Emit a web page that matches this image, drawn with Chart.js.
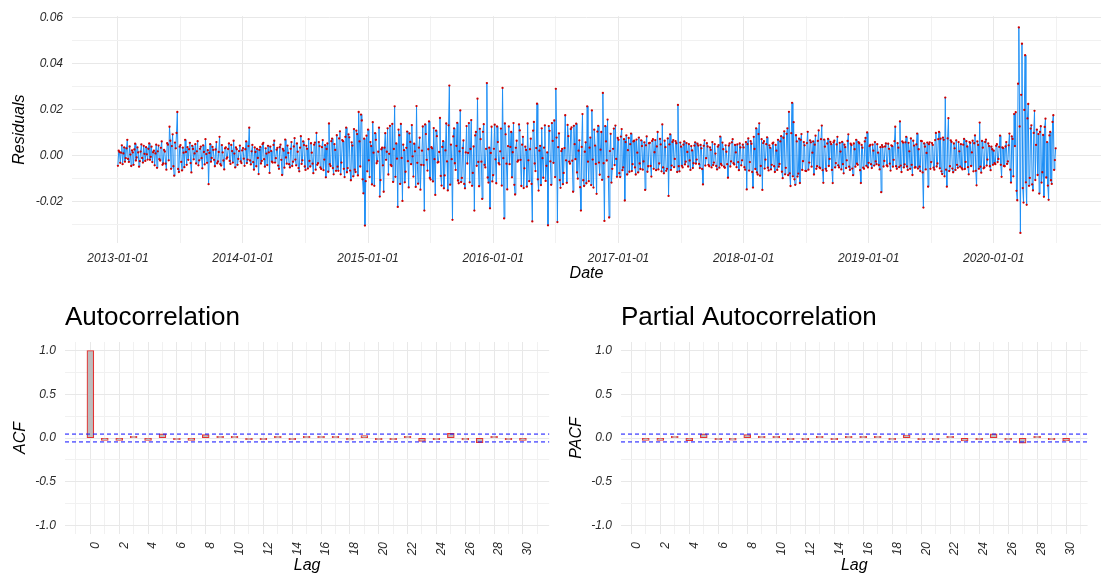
<!DOCTYPE html>
<html>
<head>
<meta charset="utf-8">
<script src="https://cdn.jsdelivr.net/npm/chart.js@4.4.1/dist/chart.umd.min.js"></script>
<style>
html,body{margin:0;padding:0;background:#fff;overflow:hidden;width:1103px;height:579px;}
.box{position:absolute;}
canvas{display:block;}
</style>
</head>
<body>
<div class="box" style="left:0;top:0;"><canvas id="resid" width="1103" height="285"></canvas></div>
<div class="box" style="left:0;top:290px;"><canvas id="acf" width="560" height="289"></canvas></div>
<div class="box" style="left:560px;top:290px;"><canvas id="pacf" width="543" height="289"></canvas></div>
<script>
// ---------------- DATA ----------------
// Residual series (about 160 values per calendar year, evenly spaced)
const res2013 = [
 -0.0045, 0.0021, 0.0015,-0.0032, 0.0012, 0.0044,-0.0038, 0.0009, 0.0035,-0.0027,-0.0012, 0.0031, 0.0068,-0.0015,-0.0028, 0.0039, 0.0004,-0.0046, 0.0022, 0.0013,
 -0.0041, 0.0026, 0.0051,-0.0022,-0.0009, 0.0035, 0.0013,-0.0049,-0.0025, 0.0017, 0.0048,-0.0011,-0.0031, 0.0042, 0.0007,-0.0024, 0.0036, 0.0005,-0.0018, 0.0029,
  0.0052,-0.0019,-0.0006, 0.0038,-0.0029, 0.0014, 0.0021,-0.0043, 0.0009, 0.0047,-0.0054, 0.0018, 0.0043,-0.0016,-0.0022, 0.0033, 0.0061,-0.0041,-0.0035, 0.0024,
  0.0017,-0.0036,-0.0062, 0.0053, 0.0047,-0.0021, 0.0125, 0.0064,-0.0058, 0.0041, 0.0092,-0.0047,-0.0088, 0.0056, 0.0031, 0.0098, 0.0189,-0.0059,-0.0072, 0.0038,
  0.0045,-0.0028,-0.0065, 0.0034, 0.0012,-0.0051, 0.0068, 0.0015,-0.0041, 0.0036,-0.0019, 0.0027, 0.0055,-0.0033,-0.0074, 0.0042, 0.0028,-0.0017, 0.0009, 0.0049,
 -0.0035, 0.0018, 0.0062,-0.0043,-0.0021, 0.0029, 0.0038,-0.0012,-0.0056, 0.0044, 0.0015,-0.0039, 0.0071, 0.0006,-0.0032, 0.0023,-0.0125, 0.0011, 0.0049,-0.0027,
 -0.0011, 0.0037, 0.0024,-0.0019,-0.0047, 0.0026, 0.0058,-0.0034,-0.0026, 0.0015, 0.0081,-0.0038,-0.0044, 0.0045, 0.0013,-0.0022,-0.0061, 0.0031, 0.0035,-0.0014,
 -0.0008, 0.0028, 0.0052,-0.0024,-0.0037, 0.0046, 0.0019,-0.0031, 0.0064, 0.0008,-0.0052, 0.0035, 0.0027,-0.0041,-0.0015, 0.0019, 0.0043,-0.0026,-0.0033, 0.0022];
const res2014 = [
  0.0032,-0.0014,-0.0045, 0.0027, 0.0061,-0.0033,-0.0018, 0.0041, 0.0121,-0.0022,-0.0039, 0.0018, 0.0046,-0.0029,-0.0062, 0.0035, 0.0015,-0.0047, 0.0028,-0.0011,
 -0.0081, 0.0024, 0.0037,-0.0035,-0.0024, 0.0049, 0.0055,-0.0016,-0.0049, 0.0031, 0.0008,-0.0042, 0.0042, 0.0013,-0.0076, 0.0038, 0.0019,-0.0027,-0.0031, 0.0046,
  0.0064,-0.0031,-0.0012, 0.0025, 0.0033,-0.0044,-0.0058, 0.0036, 0.0047,-0.0019,-0.0085, 0.0028, 0.0021,-0.0053, 0.0069,-0.0009,-0.0036, 0.0043, 0.0011,-0.0038,
 -0.0052, 0.0029, 0.0058,-0.0046,-0.0027, 0.0039, 0.0075,-0.0018,-0.0043, 0.0052, 0.0016,-0.0055,-0.0069, 0.0034, 0.0084,-0.0037,-0.0021, 0.0061, 0.0045,-0.0048,
 -0.0063, 0.0042, 0.0029,-0.0057, 0.0071,-0.0024,-0.0048, 0.0053, 0.0012,-0.0036,-0.0077, 0.0047, 0.0056,-0.0062, 0.0098,-0.0041,-0.0034, 0.0058, 0.0041,-0.0052,
 -0.0059, 0.0036, 0.0067,-0.0064,-0.0018, 0.0045,-0.0095, 0.0028, 0.0052,-0.0071, 0.0139,-0.0038,-0.0046, 0.0062, 0.0073,-0.0055,-0.0082, 0.0049, 0.0024,-0.0067,
  0.0088,-0.0049,-0.0067, 0.0074, 0.0105,-0.0082,-0.0031, 0.0067, 0.0062,-0.0058,-0.0094, 0.0081, 0.0121,-0.0073,-0.0055, 0.0092, 0.0079,-0.0066,-0.0108, 0.0057,
  0.0043,-0.0091, 0.0115,-0.0062,-0.0072, 0.0108, 0.0093,-0.0087, 0.0189, 0.0061,-0.0048, 0.0178, 0.0152,-0.0104,-0.0165, 0.0073,-0.0305,-0.0112, 0.0086,-0.0069];
const res2015 = [
  0.0112,-0.0021,-0.0094, 0.0058, 0.0041,-0.0126, 0.0145, 0.0012,-0.0132, 0.0097, 0.0068,-0.0034,-0.0025, 0.0016, 0.0121,-0.0179,-0.0107, 0.0027, 0.0034,-0.0043,
 -0.0158, 0.0034, 0.0097,-0.0019, 0.0016, 0.0118,-0.0083, 0.0007, 0.0129,-0.0041,-0.0046, 0.0137,-0.0115, 0.0028, 0.0214,-0.0093, 0.0052,-0.0014,-0.0224, 0.0112,
  0.0088,-0.0124, 0.0137,-0.0011,-0.0198, 0.0047, 0.0023,-0.0117,-0.0071, 0.0033, 0.0104,-0.0025,-0.0139, 0.0096, 0.0059,-0.0038, 0.0132,-0.0004,-0.0092, 0.0051,
  0.0018,-0.0137, 0.0215,-0.0032,-0.0123, 0.0034, 0.0077,-0.0149,-0.0041, 0.0021, 0.0126,-0.0042,-0.0240, 0.0135, 0.0093,-0.0019,-0.0066, 0.0027, 0.0148,-0.0098,
 -0.0105, 0.0036, 0.0031,-0.0113, 0.0119,-0.0016,-0.0172, 0.0108, 0.0084,-0.0031,-0.0028, 0.0015, 0.0163,-0.0089,-0.0131, 0.0037, 0.0062,-0.0143,-0.0087, 0.0022,
  0.0139,-0.0026,-0.0152, 0.0131, 0.0304,-0.0127, 0.0047,-0.0016,-0.0280, 0.0083, 0.0118,-0.0034,-0.0063, 0.0042, 0.0142,-0.0109,-0.0121, 0.0018, 0.0196,-0.0116,
 -0.0098, 0.0032, 0.0065,-0.0124,-0.0143, 0.0013, 0.0128,-0.0035, 0.0011, 0.0141,-0.0117, 0.0028, 0.0154,-0.0132,-0.0076, 0.0039,-0.0240, 0.0087, 0.0102,-0.0045,
  0.0247,-0.0028,-0.0134, 0.0116, 0.0071,-0.0027,-0.0189, 0.0103, 0.0136,-0.0041,-0.0052, 0.0029, 0.0315,-0.0096,-0.0118, 0.0034,-0.0230, 0.0011, 0.0125,-0.0113];
const res2016 = [
 -0.0086, 0.0029, 0.0134,-0.0017,-0.0121, 0.0126, 0.0058,-0.0033,-0.0039, 0.0018, 0.0117,-0.0131, 0.0294,-0.0012,-0.0274, 0.0139, 0.0092,-0.0036,-0.0148, 0.0041,
  0.0126,-0.0038, 0.0037, 0.0102,-0.0095, 0.0014, 0.0141,-0.0128,-0.0170, 0.0033, 0.0064,-0.0027,-0.0022, 0.0135, 0.0109,-0.0019,-0.0133, 0.0047, 0.0081,-0.0142,
 -0.0056, 0.0038, 0.0024,-0.0136, 0.0139,-0.0021,-0.0112, 0.0027, 0.0073,-0.0124,-0.0287, 0.0108, 0.0146,-0.0035,-0.0068, 0.0032, 0.0225,-0.0104,-0.0153, 0.0021,
  0.0042,-0.0129, 0.0118,-0.0012,-0.0097, 0.0034, 0.0131,-0.0111,-0.0045, 0.0013,-0.0304, 0.0128, 0.0107,-0.0026,-0.0128, 0.0141, 0.0063,-0.0032, 0.0152,-0.0094,
  0.0290, 0.0078,-0.0290, 0.0036, 0.0096,-0.0107,-0.0141, 0.0019, 0.0028,-0.0125,-0.0076, 0.0032, 0.0175,-0.0021,-0.0119, 0.0133, 0.0084,-0.0027,-0.0036, 0.0115,
  0.0122,-0.0023,-0.0158, 0.0129, 0.0049,-0.0016, 0.0138,-0.0074,-0.0101, 0.0021, 0.0066,-0.0138,-0.0240, 0.0037, 0.0180,-0.0108,-0.0133, 0.0016, 0.0057,-0.0121,
  0.0214,-0.0027,-0.0112, 0.0034, 0.0078,-0.0129, 0.0196,-0.0018,-0.0140, 0.0112, 0.0043,-0.0037,-0.0167, 0.0104, 0.0129,-0.0031,-0.0084, 0.0025, 0.0102,-0.0106,
  0.0272,-0.0034,-0.0285, 0.0128, 0.0061,-0.0022, 0.0156,-0.0093,-0.0270, 0.0019, 0.0094,-0.0118,-0.0058, 0.0029, 0.0117,-0.0042, 0.0130,-0.0015,-0.0093, 0.0076];
const res2017 = [
  0.0068,-0.0077,-0.0094, 0.0082, 0.0115,-0.0064,-0.0052, 0.0071,-0.0196, 0.0058, 0.0087,-0.0083, 0.0023, 0.0076,-0.0071, 0.0049, 0.0095,-0.0068,-0.0038, 0.0061,
  0.0064,-0.0052,-0.0083, 0.0069, 0.0012,-0.0074, 0.0078,-0.0035,-0.0059, 0.0066, 0.0041,-0.0062,-0.0026, 0.0057,-0.0150, 0.0044, 0.0083,-0.0071,-0.0047, 0.0053,
  0.0055,-0.0046,-0.0092, 0.0063, 0.0071,-0.0058, 0.0014, 0.0067,-0.0064, 0.0039, 0.0102,-0.0061,-0.0035, 0.0072, 0.0048,-0.0069, 0.0135,-0.0052,-0.0078, 0.0064,
  0.0036,-0.0067,-0.0058, 0.0074,-0.0176, 0.0048, 0.0092,-0.0063,-0.0044, 0.0059, 0.0067,-0.0051,-0.0015, 0.0062, 0.0053,-0.0072, 0.0220,-0.0047,-0.0069, 0.0056,
  0.0038,-0.0045,-0.0052, 0.0047, 0.0061,-0.0039,-0.0027, 0.0054, 0.0015,-0.0048, 0.0049,-0.0022,-0.0063, 0.0041, 0.0022,-0.0055,-0.0034, 0.0043, 0.0057,-0.0036,
 -0.0018, 0.0051, 0.0043,-0.0037,-0.0055, 0.0046, 0.0031,-0.0059,-0.0126, 0.0042, 0.0066,-0.0044,-0.0012, 0.0053, 0.0039,-0.0041,-0.0047, 0.0035, 0.0024,-0.0052,
  0.0058,-0.0042,-0.0031, 0.0049, 0.0008,-0.0046,-0.0061, 0.0038, 0.0045,-0.0053, 0.0082,-0.0037,-0.0043, 0.0056, 0.0027,-0.0049,-0.0054, 0.0044, 0.0016,-0.0038,
 -0.0097, 0.0043, 0.0052,-0.0048,-0.0026, 0.0057, 0.0071,-0.0034,-0.0039, 0.0046, 0.0013,-0.0051, 0.0048,-0.0029,-0.0064, 0.0052, 0.0035,-0.0043,-0.0021, 0.0047];
const res2018 = [
  0.0035,-0.0051,-0.0062, 0.0058,-0.0148, 0.0049, 0.0074,-0.0066,-0.0029, 0.0062, 0.0051,-0.0072,-0.0140, 0.0081, 0.0028,-0.0059, 0.0118,-0.0074,-0.0083, 0.0093,
  0.0140,-0.0088,-0.0046, 0.0071,-0.0150, 0.0054, 0.0062,-0.0057,-0.0018, 0.0049, 0.0079,-0.0053,-0.0065, 0.0044, 0.0033,-0.0061,-0.0041, 0.0052, 0.0056,-0.0047,
 -0.0072, 0.0046, 0.0021,-0.0063, 0.0068,-0.0049,-0.0037, 0.0061, 0.0084,-0.0071,-0.0099, 0.0077, 0.0105,-0.0082,-0.0054, 0.0094, 0.0118,-0.0086, 0.0190,-0.0078,
 -0.0133, 0.0097, 0.0229,-0.0091, 0.0145,-0.0104,-0.0128, 0.0088, 0.0061,-0.0092,-0.0079, 0.0073,-0.0120, 0.0068, 0.0093,-0.0063,-0.0025, 0.0058, 0.0044,-0.0067,
 -0.0068, 0.0054, 0.0103,-0.0062,-0.0031, 0.0066, 0.0057,-0.0049, 0.0012, 0.0061,-0.0083, 0.0047, 0.0086,-0.0058,-0.0047, 0.0063, 0.0109,-0.0052,-0.0056, 0.0071,
  0.0130,-0.0064,-0.0119, 0.0069, 0.0038,-0.0058,-0.0067, 0.0052, 0.0072,-0.0046,-0.0015, 0.0059, 0.0049,-0.0063,-0.0120, 0.0057, 0.0064,-0.0052,-0.0033, 0.0048,
  0.0081,-0.0043,-0.0052, 0.0055, 0.0017,-0.0061, 0.0059,-0.0038,-0.0078, 0.0047, 0.0036,-0.0055,-0.0021, 0.0063, 0.0092,-0.0049,-0.0063, 0.0051, 0.0045,-0.0057,
 -0.0086, 0.0052, 0.0027,-0.0049, 0.0068,-0.0036,-0.0041, 0.0058, 0.0053,-0.0064,-0.0120, 0.0046, 0.0034,-0.0053,-0.0058, 0.0061, 0.0076,-0.0045, 0.0100,-0.0052];
const res2019 = [
 -0.0032, 0.0041, 0.0046,-0.0038,-0.0055, 0.0047, 0.0021,-0.0044, 0.0058,-0.0026,-0.0038, 0.0049, 0.0012,-0.0042,-0.0061, 0.0036,-0.0160, 0.0045, 0.0037,-0.0048,
 -0.0024, 0.0039, 0.0052,-0.0043,-0.0047, 0.0051, 0.0029,-0.0036,-0.0066, 0.0044, 0.0041,-0.0049,-0.0019, 0.0062, 0.0125,-0.0047,-0.0058, 0.0053, 0.0034,-0.0051,
  0.0148,-0.0044,-0.0072, 0.0061, 0.0056,-0.0052,-0.0039, 0.0057, 0.0081,-0.0048,-0.0063, 0.0055, 0.0018,-0.0058, 0.0074,-0.0041,-0.0085, 0.0064, 0.0043,-0.0053,
 -0.0051, 0.0048, 0.0095,-0.0057, 0.0027,-0.0049,-0.0068, 0.0063, 0.0062,-0.0074,-0.0227, 0.0052, 0.0038,-0.0061, 0.0011, 0.0056,-0.0136, 0.0049, 0.0057,-0.0058,
 -0.0029, 0.0054, 0.0046,-0.0053,-0.0062, 0.0067, 0.0098,-0.0048,-0.0035, 0.0071, 0.0102,-0.0056, 0.0073,-0.0069,-0.0081, 0.0078, 0.0068,-0.0091, 0.0252,-0.0062,
 -0.0136, 0.0074, 0.0162,-0.0068,-0.0047, 0.0066, 0.0059,-0.0057,-0.0073, 0.0052, 0.0031,-0.0063, 0.0066,-0.0041,-0.0054, 0.0058, 0.0018,-0.0049, 0.0049,-0.0055,
 -0.0061, 0.0047, 0.0072,-0.0059,-0.0028, 0.0062, 0.0039,-0.0051,-0.0082, 0.0058, 0.0055,-0.0046, 0.0013, 0.0064,-0.0069, 0.0053, 0.0087,-0.0067,-0.0130, 0.0061,
  0.0046,-0.0058, 0.0143,-0.0049,-0.0075, 0.0063, 0.0034,-0.0056,-0.0052, 0.0059, 0.0069,-0.0044,-0.0018, 0.0052, 0.0041,-0.0047,-0.0064, 0.0038, 0.0027,-0.0041];
const res2020 = [
  0.0021,-0.0034,-0.0038, 0.0042, 0.0049,-0.0029,-0.0015, 0.0037, 0.0086,-0.0041,-0.0093, 0.0035, 0.0032,-0.0046,-0.0047, 0.0039, 0.0058,-0.0037,-0.0026, 0.0044,
  0.0095,-0.0062,-0.0118, 0.0083, 0.0072,-0.0091, 0.0180, 0.0041, 0.0188,-0.0154,-0.0195, 0.0312, 0.0557, 0.0126,-0.0337, 0.0264, 0.0486,-0.0142,-0.0205, 0.0198,
  0.0436,-0.0117,-0.0215, 0.0161, 0.0224,-0.0132,-0.0098, 0.0117, 0.0131,-0.0126,-0.0152, 0.0098, 0.0194,-0.0107, 0.0046, 0.0112,-0.0085, 0.0093,-0.0166, 0.0102,
  0.0127,-0.0118,-0.0073, 0.0089,-0.0180, 0.0124, 0.0160,-0.0096, 0.0058,-0.0131,-0.0193, 0.0087, 0.0102,-0.0108,-0.0124, 0.0146, 0.0175,-0.0063,-0.0020, 0.0031];
const pointsPerYear = 160;
const residualYears = [2013, 2014, 2015, 2016, 2017, 2018, 2019, 2020];
const residualSeries = [res2013, res2014, res2015, res2016, res2017, res2018, res2019, res2020];

const dateTickLabels = ['2013-01-01','2014-01-01','2015-01-01','2016-01-01','2017-01-01','2018-01-01','2019-01-01','2020-01-01'];
const dateAxisLimits = ['2012-08-20', '2020-11-09'];
const residTickLabels = ['-0.02','0.00','0.02','0.04','0.06'];
const residMinorTicks = [-0.03, -0.01, 0.01, 0.03, 0.05];
const residAxisLimits = [-0.0381, 0.0606];

const acfLags = [0,1,2,3,4,5,6,7,8,9,10,11,12,13,14,15,16,17,18,19,20,21,22,23,24,25,26,27,28,29,30];
const acfValues = [1.0,-0.025,-0.025,0.003,-0.025,0.045,-0.004,-0.025,0.035,0.002,0.005,-0.015,-0.003,0.015,-0.012,
  0.015,0.005,0.005,-0.018,0.025,-0.005,-0.003,0.015,-0.035,-0.003,0.05,-0.018,-0.05,0.013,-0.003,-0.025];
const pacfLags = [1,2,3,4,5,6,7,8,9,10,11,12,13,14,15,16,17,18,19,20,21,22,23,24,25,26,27,28,29,30];
const pacfValues = [-0.025,-0.025,0.002,-0.028,0.045,-0.005,-0.022,0.035,0.002,0.005,-0.015,-0.003,0.008,-0.01,
  0.015,0.005,0.006,-0.02,0.03,-0.005,-0.003,0.012,-0.03,-0.006,0.045,-0.018,-0.055,0.01,-0.004,-0.03];
const ciBound = 0.045;
const lagTickLabels = ['0','2','4','6','8','10','12','14','16','18','20','22','24','26','28','30'];
const lagMinorTicks = [-1,1,3,5,7,9,11,13,15,17,19,21,23,25,27,29,31];
const corrTickLabels = ['-1.0','-0.5','0.0','0.5','1.0'];
const corrMinorTicks = [-0.75,-0.25,0.25,0.75];
const corrAxisLimits = [-1.1, 1.1];
const acfLagLimits = [-1.76, 31.82];
const pacfLagLimits = [-0.71, 31.48];

// ---------------- STYLE ----------------
const FONT = "'Liberation Sans', Arial, Helvetica, sans-serif";
const GRID_MAJOR = '#e8e8e8';
const GRID_MINOR = '#f1f1f1';
const TICK_COLOR = '#2a2a2a';
Chart.defaults.font.family = FONT;
Chart.defaults.color = TICK_COLOR;

const DAY = 86400000;
const dayNum = s => Date.parse(s + 'T00:00:00Z') / DAY;

// residual points: evenly spaced through each calendar year
const residData = [];
residualYears.forEach((yr, k) => {
  const start = Date.UTC(yr, 0, 1) / DAY;
  const len = Date.UTC(yr + 1, 0, 1) / DAY - start;
  residualSeries[k].forEach((v, i) => residData.push({x: start + i * len / pointsPerYear, y: v}));
});

function mkTicks(majorLabels, minorValues, lo, hi) {
  const t = majorLabels.map(s => ({value: parseFloat(s), isMajor: true, text: s}))
    .concat(minorValues.map(v => ({value: v, isMajor: false, text: ''})));
  return t.filter(o => o.value >= lo - 1e-9 && o.value <= hi + 1e-9).sort((a, b) => a.value - b.value);
}

// date ticks: majors at each year, minors at midpoints
const xMin = dayNum(dateAxisLimits[0]), xMax = dayNum(dateAxisLimits[1]);
const majorDays = dateTickLabels.map(dayNum);
const extDays = [dayNum('2012-01-01')].concat(majorDays, [dayNum('2021-01-01')]);
let dateTicks = [];
for (let i = 0; i < extDays.length; i++) {
  if (i > 0 && i < extDays.length - 1) dateTicks.push({value: extDays[i], isMajor: true, text: dateTickLabels[i - 1]});
  if (i < extDays.length - 1) dateTicks.push({value: (extDays[i] + extDays[i + 1]) / 2, isMajor: false, text: ''});
}
dateTicks = dateTicks.filter(o => o.value >= xMin && o.value <= xMax);

const gridColor = c => (c.tick && c.tick.isMajor) ? GRID_MAJOR : GRID_MINOR;
const tickFont = {size: 12, style: 'italic', family: FONT};
const titleFont = {size: 16, style: 'italic', family: FONT};

function axisX(ticksList, lo, hi, height, title, titlePadBottom, extraTicks) {
  return Object.assign({
    type: 'linear', min: lo, max: hi, offset: false,
    afterBuildTicks: s => { s.ticks = ticksList.map(o => Object.assign({}, o)); },
    afterFit: s => { s.height = height; },
    border: {display: false},
    grid: {drawTicks: false, tickLength: 0, offset: false, color: gridColor, lineWidth: 1},
    title: {display: true, text: title, color: '#000', font: titleFont, padding: {top: 0, bottom: titlePadBottom}}
  }, extraTicks);
}
function axisY(ticksList, lo, hi, width, title, titlePadTop, pad) {
  return {
    type: 'linear', min: lo, max: hi,
    afterBuildTicks: s => { s.ticks = ticksList.map(o => Object.assign({}, o)); },
    afterFit: s => { s.width = width; },
    border: {display: false},
    grid: {drawTicks: false, tickLength: 0, color: gridColor, lineWidth: 1},
    ticks: {autoSkip: false, padding: pad, color: TICK_COLOR, font: tickFont,
      callback: (v, i, t) => t[i].isMajor ? t[i].text : ''},
    title: {display: true, text: title, color: '#000', font: titleFont, padding: {top: titlePadTop, bottom: 0}}
  };
}

// ---------------- TOP: residuals ----------------
new Chart(document.getElementById('resid'), {
  type: 'line',
  data: {datasets: [{
    data: residData,
    borderColor: '#1E8FF5', borderWidth: 1, tension: 0,
    pointRadius: 1.15, pointBackgroundColor: '#D00000', pointBorderWidth: 0, pointHoverRadius: 0
  }]},
  options: {
    responsive: false, animation: false, devicePixelRatio: 1,
    layout: {padding: {top: 13, right: 2, left: 0, bottom: 0}},
    plugins: {legend: {display: false}, tooltip: {enabled: false}},
    events: [],
    scales: {
      x: axisX(dateTicks, xMin, xMax, 42, 'Date', 2, {
        ticks: {autoSkip: false, maxRotation: 0, minRotation: 0, padding: 8, color: TICK_COLOR, font: tickFont,
          callback: (v, i, t) => t[i].isMajor ? t[i].text : ''}
      }),
      y: axisY(mkTicks(residTickLabels, residMinorTicks, residAxisLimits[0], residAxisLimits[1]),
        residAxisLimits[0], residAxisLimits[1], 72, 'Residuals', 10, 9)
    }
  }
});

// ---------------- BOTTOM: ACF / PACF ----------------
const panelTitle = {
  id: 'panelTitle',
  afterDraw(chart, args, opts) {
    const ctx = chart.ctx;
    ctx.save();
    ctx.font = '26px ' + FONT;
    ctx.fillStyle = '#000';
    ctx.textAlign = 'left';
    ctx.textBaseline = 'alphabetic';
    ctx.fillText(opts.text, chart.chartArea.left, opts.baseline);
    ctx.restore();
  }
};
const ciLines = {
  id: 'ciLines',
  afterDatasetsDraw(chart, args, opts) {
    const {ctx, chartArea: a} = chart;
    const y = chart.scales.y;
    ctx.save();
    ctx.strokeStyle = 'rgba(30,30,255,0.62)';
    ctx.lineWidth = 1.7;
    ctx.setLineDash([4, 3]);
    [opts.bound, -opts.bound].forEach(b => {
      const py = y.getPixelForValue(b);
      ctx.beginPath(); ctx.moveTo(a.left, py); ctx.lineTo(a.right, py); ctx.stroke();
    });
    ctx.restore();
  }
};

function corrChart(id, lags, vals, lagLimits, yWidth, yTitle, yTitlePad, rightPad, titleText) {
  const lagTicks = mkTicks(lagTickLabels, lagMinorTicks, lagLimits[0], lagLimits[1]);
  const corrTicks = mkTicks(corrTickLabels, corrMinorTicks, corrAxisLimits[0], corrAxisLimits[1]);
  new Chart(document.getElementById(id), {
    type: 'bar',
    data: {datasets: [{
      data: lags.map((l, i) => ({x: l, y: vals[i]})),
      backgroundColor: '#bdbdbd',
      borderColor: 'rgba(222,0,0,0.8)',
      borderWidth: 1.2, borderSkipped: false, minBarLength: 1.5, inflateAmount: 0.6,
      barPercentage: 0.44, categoryPercentage: 1
    }]},
    options: {
      responsive: false, animation: false, devicePixelRatio: 1, events: [],
      layout: {padding: {top: 52, right: rightPad, left: 0, bottom: 0}},
      plugins: {legend: {display: false}, tooltip: {enabled: false},
        panelTitle: {text: titleText, baseline: 35}, ciLines: {bound: ciBound}},
      scales: {
        x: axisX(lagTicks, lagLimits[0], lagLimits[1], 45, 'Lag', 4, {
          ticks: {autoSkip: false, maxRotation: 90, minRotation: 90, padding: 8, labelOffset: 5,
            color: TICK_COLOR, font: tickFont, callback: (v, i, t) => t[i].isMajor ? t[i].text : ''}
        }),
        y: axisY(corrTicks, corrAxisLimits[0], corrAxisLimits[1], yWidth, yTitle, yTitlePad, 9)
      }
    },
    plugins: [panelTitle, ciLines]
  });
}
corrChart('acf', acfLags, acfValues, acfLagLimits, 65, 'ACF', 11, 10.5, 'Autocorrelation');
corrChart('pacf', pacfLags, pacfValues, pacfLagLimits, 61, 'PACF', 6.5, 0, 'Partial Autocorrelation');
</script>
</body>
</html>
